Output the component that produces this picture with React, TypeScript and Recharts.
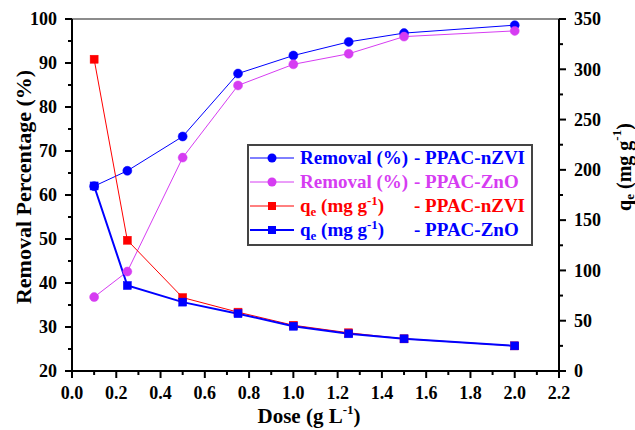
import React from 'react';
import {
  LineChart,
  Line,
  XAxis,
  YAxis,
  Legend,
  ReferenceLine,
} from 'recharts';

const DOSE = [0.1, 0.25, 0.5, 0.75, 1.0, 1.25, 1.5, 2.0];
const REMOVAL_NZVI = [62.0, 65.5, 73.3, 87.6, 91.7, 94.8, 96.8, 98.6];
const REMOVAL_ZNO = [36.8, 42.6, 68.5, 84.9, 89.7, 92.1, 96.0, 97.3];
const QE_NZVI = [310, 130, 73, 58.5, 45.5, 38, 32, 25];
const QE_ZNO = [184, 85, 68.5, 57, 44.5, 37, 32, 25];

const X_TICKS = [0, 0.1, 0.2, 0.3, 0.4, 0.5, 0.6, 0.7, 0.8, 0.9, 1.0, 1.1, 1.2, 1.3, 1.4, 1.5, 1.6, 1.7, 1.8, 1.9, 2.0, 2.1, 2.2];
const LEFT_TICKS = [20, 25, 30, 35, 40, 45, 50, 55, 60, 65, 70, 75, 80, 85, 90, 95, 100];
const RIGHT_TICKS = [0, 25, 50, 75, 100, 125, 150, 175, 200, 225, 250, 275, 300, 325, 350];

const data = DOSE.map((d, i) => ({
  dose: d,
  remNZVI: REMOVAL_NZVI[i],
  remZnO: REMOVAL_ZNO[i],
  qeNZVI: QE_NZVI[i],
  qeZnO: QE_ZNO[i],
}));

const BLUE = '#0000ff';
const MAGENTA = '#d63cf2';
const RED = '#ff0000';
const FONT = '"Liberation Serif", "Times New Roman", serif';

const TS = 7; // tick size
const TM = 8; // tick margin

const XTick = (p: any) => {
  const { x, y, payload } = p;
  const v = payload.value;
  const major = Math.round(v * 10) % 2 === 0;
  const axisY = y - TS - TM;
  return (
    <g>
      <line x1={x} x2={x} y1={axisY} y2={axisY + (major ? 7 : 4)} stroke="#000" strokeWidth={2} />
      {major && (
        <text x={x} y={y} dy="0.71em" textAnchor="middle" fontFamily={FONT} fontWeight="bold" fontSize={18} fill="#000">
          {v.toFixed(1)}
        </text>
      )}
    </g>
  );
};

const LeftTick = (p: any) => {
  const { x, y, payload } = p;
  const v = payload.value;
  const major = v % 10 === 0;
  const axisX = x + TS + TM;
  return (
    <g>
      <line x1={axisX - (major ? 7 : 4)} x2={axisX} y1={y} y2={y} stroke="#000" strokeWidth={2} />
      {major && (
        <text x={x} y={y} dy="0.35em" textAnchor="end" fontFamily={FONT} fontWeight="bold" fontSize={18} fill="#000">
          {v}
        </text>
      )}
    </g>
  );
};

const RightTick = (p: any) => {
  const { x, y, payload } = p;
  const v = payload.value;
  const major = v % 50 === 0;
  const axisX = x - TS - TM;
  return (
    <g>
      <line x1={axisX} x2={axisX + (major ? 7 : 4)} y1={y} y2={y} stroke="#000" strokeWidth={2} />
      {major && (
        <text x={x} y={y} dy="0.35em" textAnchor="start" fontFamily={FONT} fontWeight="bold" fontSize={18} fill="#000">
          {v}
        </text>
      )}
    </g>
  );
};

const Square = (color: string) => (p: any) => {
  if (p.cx == null || p.cy == null) return <g key={`e-${p.index}`} />;
  return <rect key={`sq-${p.index}`} x={p.cx - 4} y={p.cy - 4} width={8} height={8} fill={color} stroke={color} strokeWidth={0.5} />;
};

const Sub = ({ children }: any) => (
  <span style={{ fontSize: 13, verticalAlign: -4 }}>{children}</span>
);
const Sup = ({ children }: any) => (
  <span style={{ fontSize: 13, verticalAlign: 7 }}>{children}</span>
);

const QeLabel = () => (
  <>
    q<Sub>e</Sub> (mg g<Sup>-1</Sup>)
  </>
);

const LEGEND_ROWS = [
  { label: 'Removal (%)', tail: '- PPAC-nZVI', color: BLUE, shape: 'circle', width: 1 },
  { label: 'Removal (%)', tail: '- PPAC-ZnO', color: MAGENTA, shape: 'circle', width: 1 },
  { label: 'qe', tail: '- PPAC-nZVI', color: RED, shape: 'square', width: 1 },
  { label: 'qe', tail: '- PPAC-ZnO', color: BLUE, shape: 'square', width: 2 },
];

const LegendBox = () => (
  <div
    style={{
      border: '2px solid #444',
      background: '#fff',
      fontFamily: FONT,
      fontWeight: 'bold',
      fontSize: 19,
      boxSizing: 'border-box',
      width: 286,
      height: 102,
      paddingTop: 0,
    }}
  >
    {LEGEND_ROWS.map((r, i) => (
      <div key={i} style={{ display: 'flex', alignItems: 'center', height: 24, color: r.color, whiteSpace: 'nowrap' }}>
        <svg width={44} height={12} style={{ marginLeft: 1, marginRight: 6 }}>
          <line x1={0} x2={44} y1={6} y2={6} stroke={r.color} strokeWidth={r.width} />
          {r.shape === 'circle' ? (
            <circle cx={22} cy={6} r={4.5} fill={r.color} />
          ) : (
            <rect x={18} y={2} width={8} height={8} fill={r.color} />
          )}
        </svg>
        <span style={{ display: 'inline-block', width: 114 }}>
          {r.label === 'qe' ? <QeLabel /> : r.label}
        </span>
        <span>{r.tail}</span>
      </div>
    ))}
  </div>
);

const LeftTitle = () => {
  const cx = 23;
  const cy = 187;
  return (
    <text x={cx} y={cy} transform={`rotate(-90, ${cx}, ${cy})`} textAnchor="middle" dominantBaseline="central"
      fontFamily={FONT} fontWeight="bold" fontSize={22} fill="#000">
      Removal Percentage (%)
    </text>
  );
};

const RightTitle = () => {
  const cx = 624;
  const cy = 167;
  return (
    <text x={cx} y={cy} transform={`rotate(-90, ${cx}, ${cy})`} textAnchor="middle" dominantBaseline="central"
      fontFamily={FONT} fontWeight="bold" fontSize={20} fill="#000">
      q<tspan fontSize={13} dy={5}>e</tspan>
      <tspan dy={-5}> (mg g</tspan>
      <tspan fontSize={13} dy={-8}>-1</tspan>
      <tspan dy={8}>)</tspan>
    </text>
  );
};

const BottomTitle = () => {
  const cx = 309;
  const cy = 416;
  return (
    <text x={cx} y={cy} textAnchor="middle" dominantBaseline="central"
      fontFamily={FONT} fontWeight="bold" fontSize={21} fill="#000">
      Dose (g L<tspan fontSize={13} dy={-7}>-1</tspan>
      <tspan dy={7}>)</tspan>
    </text>
  );
};

export default function App() {
  return (
    <div style={{ position: 'absolute', left: 0, top: 0, width: 635, height: 430, background: '#fff' }}>
      <LineChart width={635} height={430} data={data} margin={{ top: 19, right: 0, left: 0, bottom: 0 }}>
        <XAxis
          dataKey="dose"
          type="number"
          domain={[0, 2.2]}
          ticks={X_TICKS}
          interval={0}
          height={59}
          tickSize={TS}
          tickMargin={TM}
          tickLine={false}
          tick={<XTick />}
          axisLine={{ stroke: '#000', strokeWidth: 2 }}
          label={{ content: BottomTitle }}
        />
        <YAxis
          yAxisId="left"
          orientation="left"
          domain={[20, 100]}
          ticks={LEFT_TICKS}
          interval={0}
          width={72}
          tickSize={TS}
          tickMargin={TM}
          tickLine={false}
          tick={<LeftTick />}
          axisLine={{ stroke: '#000', strokeWidth: 2 }}
          label={{ content: LeftTitle }}
        />
        <YAxis
          yAxisId="right"
          orientation="right"
          domain={[0, 350]}
          ticks={RIGHT_TICKS}
          interval={0}
          width={76}
          tickSize={TS}
          tickMargin={TM}
          tickLine={false}
          tick={<RightTick />}
          axisLine={{ stroke: '#000', strokeWidth: 2 }}
          label={{ content: RightTitle }}
        />
        <ReferenceLine yAxisId="left" y={100} stroke="#666" strokeWidth={1.5} />
        <Line
          yAxisId="left"
          dataKey="remNZVI"
          name="Removal (%) - PPAC-nZVI"
          stroke={BLUE}
          strokeWidth={1}
          dot={{ r: 4.5, fill: BLUE, stroke: BLUE, strokeWidth: 0.5 }}
          isAnimationActive={false}
        />
        <Line
          yAxisId="left"
          dataKey="remZnO"
          name="Removal (%) - PPAC-ZnO"
          stroke={MAGENTA}
          strokeWidth={1}
          dot={{ r: 4.5, fill: MAGENTA, stroke: MAGENTA, strokeWidth: 0.5 }}
          isAnimationActive={false}
        />
        <Line
          yAxisId="right"
          dataKey="qeNZVI"
          name="qe - PPAC-nZVI"
          stroke={RED}
          strokeWidth={1}
          dot={Square(RED)}
          isAnimationActive={false}
        />
        <Line
          yAxisId="right"
          dataKey="qeZnO"
          name="qe - PPAC-ZnO"
          stroke={BLUE}
          strokeWidth={2}
          dot={Square(BLUE)}
          isAnimationActive={false}
        />
        <Legend
          layout="vertical"
          align="center"
          verticalAlign="middle"
          content={() => <LegendBox />}
          wrapperStyle={{ left: 247, top: 144, width: 286, height: 102 }}
        />
      </LineChart>
    </div>
  );
}
